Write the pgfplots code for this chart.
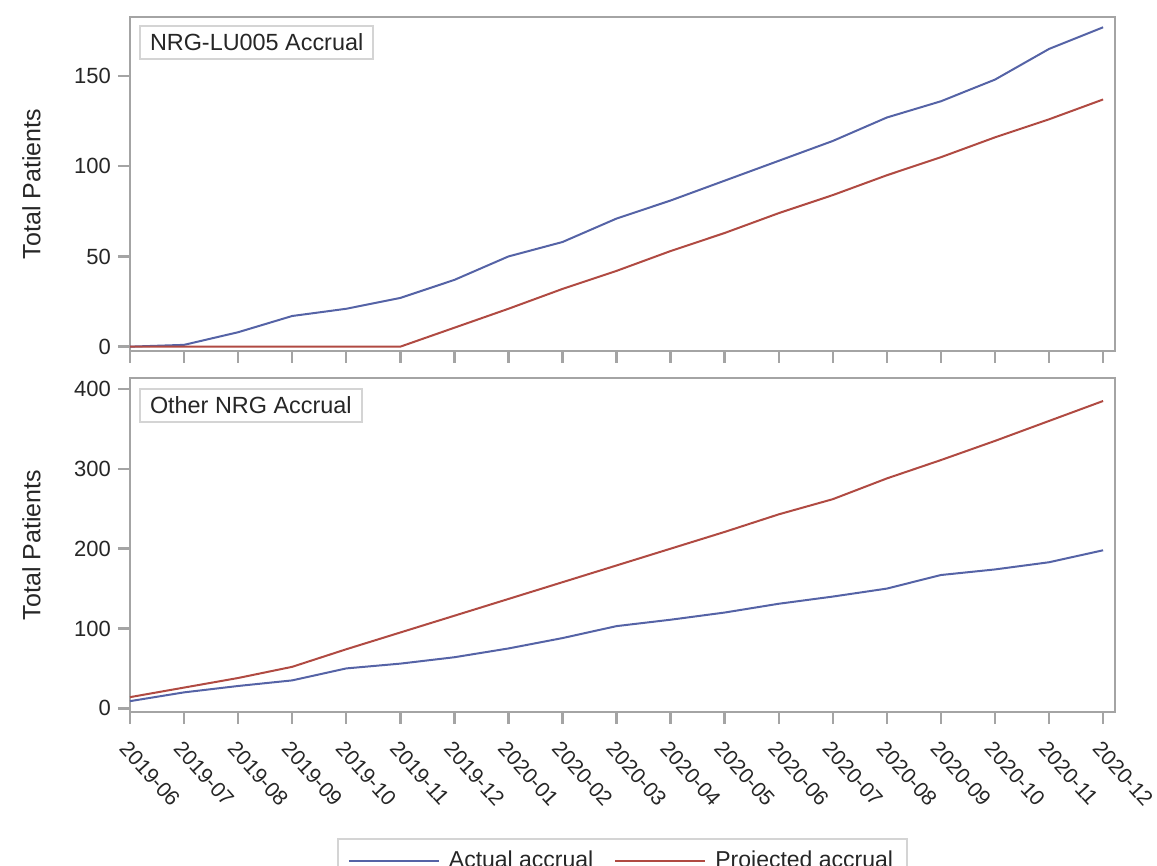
\documentclass[border=0pt]{standalone}
\usepackage{fontspec}
\setmainfont{Liberation Sans}
\usepackage{pgfplots}
\pgfplotsset{compat=1.18}

\definecolor{actual}{HTML}{5563A6}
\definecolor{projected}{HTML}{B04A42}
\definecolor{framegray}{HTML}{A4A4A4}
\definecolor{boxgray}{HTML}{D4D4D4}

% months 2019-06 .. 2020-12 are plotted at 0..18
\pgfplotsset{
  panel/.style={
    scale only axis, width=492.5pt, height=167pt,
    xmin=0, xmax=18.22,
    xtick={0,...,18},
    axis line style={framegray, line width=1.2pt},
    tick style={framegray, line width=1.2pt},
    tick align=outside, tick pos=left, major tick length=6pt,
    font=\fontsize{11}{13}\selectfont,
    ticklabel style={text=black!85},
    /pgf/number format/assume math mode=true,
    ylabel={Total Patients}, ylabel shift=10pt,
    ylabel style={font=\fontsize{12.5}{15}\selectfont, text=black!85},
    every axis plot/.append style={line width=1pt},
  },
}
\tikzset{
  inset/.style={draw=boxgray, line width=1pt, fill=white,
    inner xsep=5pt, inner ysep=4pt, text height=8.4pt, text depth=0pt,
    anchor=north west, font=\fontsize{11.7}{14}\selectfont, text=black!85},
}

\begin{document}
\begin{tikzpicture}
\begin{axis}[panel, at={(0,0)}, anchor=north west,
    ymin=-2.4, ymax=182.7, ytick={0,50,100,150},
    xticklabels={}]
  \addplot[actual] coordinates {
    (0,0) (1,1) (2,8) (3,17) (4,21) (5,27) (6,37) (7,50) (8,58) (9,71)
    (10,81) (11,92) (12,103) (13,114) (14,127) (15,136) (16,148) (17,165) (18,177)
  };
  \addplot[projected] coordinates {
    (0,0) (1,0) (2,0) (3,0) (4,0) (5,0) (6,10.5) (7,21) (8,32) (9,42)
    (10,53) (11,63) (12,74) (13,84) (14,95) (15,105) (16,116) (17,126) (18,137)
  };
  \node[inset] at ([xshift=4.5pt,yshift=-4pt]rel axis cs:0,1) {NRG-LU005 Accrual};
\end{axis}

\begin{axis}[panel, at={(0,-180.5pt)}, anchor=north west,
    ymin=-4.6, ymax=413.8, ytick={0,100,200,300,400},
    xticklabels={2019-06,2019-07,2019-08,2019-09,2019-10,2019-11,2019-12,
      2020-01,2020-02,2020-03,2020-04,2020-05,2020-06,2020-07,2020-08,
      2020-09,2020-10,2020-11,2020-12},
    xticklabel style={rotate=-48, anchor=north west, font=\fontsize{10.6}{12}\selectfont},
    xticklabel shift=3pt,
    legend style={at={(0.5,-0.377)}, anchor=north, legend columns=2,
      draw=boxgray, line width=1pt, font=\fontsize{11.5}{14}\selectfont,
      text=black!85, inner xsep=5pt, inner ysep=4pt,
      /tikz/every odd column/.append style={column sep=2.5pt},
      /tikz/every even column/.append style={column sep=8.5pt}},
    legend image code/.code={\draw[#1, line width=1pt] (0pt,0pt) -- (45pt,0pt);}]
  \addplot[actual] coordinates {
    (0,9) (1,20) (2,28) (3,35) (4,50) (5,56) (6,64) (7,75) (8,88) (9,103)
    (10,111) (11,120) (12,131) (13,140) (14,150) (15,167) (16,174) (17,183) (18,198)
  };
  \addlegendentry{Actual accrual}
  \addplot[projected] coordinates {
    (0,14) (1,26) (2,38) (3,52) (4,74) (5,95) (6,116) (7,137) (8,158) (9,179)
    (10,200) (11,221) (12,243) (13,262) (14,288) (15,311) (16,335) (17,360) (18,385)
  };
  \addlegendentry{Projected accrual}
  \node[inset] at ([xshift=4.5pt,yshift=-5pt]rel axis cs:0,1) {Other NRG Accrual};
\end{axis}

\pgfresetboundingbox
\path[use as bounding box] (-65pt,8.5pt) rectangle (513.5pt,-424.5pt);
\end{tikzpicture}
\end{document}
